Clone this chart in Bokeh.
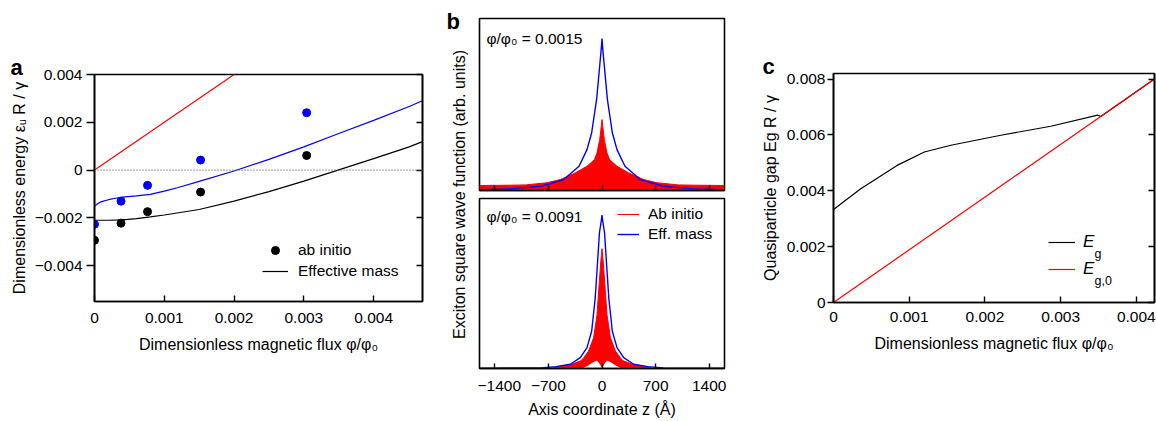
import math
from bokeh.plotting import figure
from bokeh.models import (Range1d, LinearAxis, FixedTicker, CustomJSTickFormatter,
                          Label, Legend, LegendItem, Span)
from bokeh.layouts import row, column
from bokeh.embed import file_html
from bokeh.resources import INLINE

FONT = "Liberation Sans"
RED = "#ff0000"
BLUE = "#0000ff"

# ---------------- panel a data ----------------
flux_ai = [0.0, 0.00038, 0.00076, 0.00152, 0.00304]
energy_ai_black = [-0.00294, -0.00222, -0.00174, -0.00092, 0.00061]
energy_ai_blue = [-0.00227, -0.00130, -0.00064, 0.00042, 0.00240]

flux_em_black = [0.0, 0.0002, 0.0004, 0.0006, 0.0008, 0.0010, 0.0015, 0.0020,
                 0.0025, 0.0030, 0.0035, 0.0040, 0.0045, 0.0047]
energy_em_black = [-0.00210, -0.00210, -0.00208, -0.00203, -0.00196, -0.00188, -0.00165,
                   -0.00130, -0.00090, -0.00046, 0.00001, 0.00048, 0.00096, 0.00119]

flux_em_blue = [0.0, 0.00005, 0.0001, 0.0002, 0.0003, 0.0004, 0.0006, 0.0008, 0.0010,
                0.0012, 0.0015, 0.0020, 0.0025, 0.0030, 0.0035, 0.0040, 0.0045, 0.0047]
energy_em_blue = [-0.00151, -0.00140, -0.00132, -0.00124, -0.00118, -0.00113, -0.00108,
                  -0.00102, -0.00088, -0.00073, -0.00047, -0.00004, 0.00045, 0.00097,
                  0.00153, 0.00208, 0.00265, 0.00290]

flux_free = [0.0, 0.0047]
energy_free = [0.0, 0.0094]

ticks_a_x = [0.0, 0.001, 0.002, 0.003, 0.004]
ticks_a_y = [-0.004, -0.002, 0.0, 0.002, 0.004]

# ---------------- panel b data ----------------
z_red_top = [-1600, -1200, -1000, -720, -545, -350, -196, -100, -65, -30, -10, 0,
             10, 30, 65, 100, 196, 350, 545, 720, 1000, 1200, 1600]
red_hi_top = [0.030, 0.032, 0.034, 0.048, 0.069, 0.113, 0.157, 0.200, 0.245, 0.333, 0.420, 0.465,
              0.420, 0.333, 0.245, 0.200, 0.157, 0.113, 0.069, 0.048, 0.034, 0.032, 0.030]
red_lo_top = [-0.015, -0.015, -0.015, -0.015, -0.015, -0.015, -0.015, -0.015, -0.015, -0.015,
              -0.015, -0.015, -0.015, -0.015, -0.015, -0.015, -0.015, -0.015, -0.015, -0.015,
              -0.015, -0.015, -0.015]

z_blue_top = [-1600, -1200, -800, -500, -300, -196, -135, -70, -30, -10, 0,
              10, 30, 70, 135, 196, 300, 500, 800, 1200, 1600]
blue_top = [0.003, 0.008, 0.025, 0.069, 0.157, 0.267, 0.378, 0.600, 0.820, 0.930, 1.000,
            0.930, 0.820, 0.600, 0.378, 0.267, 0.157, 0.069, 0.025, 0.008, 0.003]

z_red_bot = [-700, -650, -550, -400, -280, -250, -175, -110, -65, -35, -15, 0,
             15, 35, 65, 110, 175, 250, 280, 400, 550, 650, 700]
red_hi_bot = [0.0, 0.0, 0.012, 0.025, 0.048, 0.060, 0.112, 0.198, 0.348, 0.564, 0.700, 0.780,
              0.700, 0.564, 0.348, 0.198, 0.112, 0.060, 0.048, 0.025, 0.012, 0.0, 0.0]
red_lo_bot = [0.0, 0.0, -0.010, -0.010, -0.005, 0.0, 0.020, 0.040, 0.050, 0.030, 0.015, 0.0,
              0.015, 0.030, 0.050, 0.040, 0.020, 0.0, -0.005, -0.010, -0.010, 0.0, 0.0]

z_blue_bot = [-1600, -800, -600, -414, -283, -196, -135, -89, -61, -33, -10, 0,
              10, 33, 61, 89, 135, 196, 283, 414, 600, 800, 1600]
blue_bot = [0.0, 0.002, 0.010, 0.026, 0.069, 0.134, 0.241, 0.456, 0.671, 0.886, 0.960, 1.000,
            0.960, 0.886, 0.671, 0.456, 0.241, 0.134, 0.069, 0.026, 0.010, 0.002, 0.0]

ticks_b_x = [-1400, -700, 0, 700, 1400]
flux_label_top = "φ/φ₀ = 0.0015"
flux_label_bot = "φ/φ₀ = 0.0091"

# ---------------- panel c data ----------------
flux_c = [0.0, 0.00036, 0.00084, 0.00120, 0.00155, 0.00221, 0.00287, 0.00349, 0.00353, 0.00424]
gap_c = [0.00333, 0.00407, 0.00491, 0.00539, 0.00563, 0.00599, 0.00631, 0.00671, 0.00666, 0.0080]
flux_c0 = [0.0, 0.00424]
gap_c0 = [0.0, 0.0080]

ticks_c_x = [0.0, 0.001, 0.002, 0.003, 0.004]
ticks_c_y = [0.0, 0.002, 0.004, 0.006, 0.008]


# ---------------- helpers ----------------
def fmt(decimals):
    return CustomJSTickFormatter(args=dict(d=decimals), code="""
        if (Math.abs(tick) < 1e-12) return "0";
        const s = Math.abs(tick).toFixed(d);
        return (tick < 0 ? "\u2212" : "") + s;
    """)


def px2d(px, f0, f1, r0, r1):
    return r0 + (px - f0) / (f1 - f0) * (r1 - r0)


def style_axis(ax):
    ax.axis_line_color = "black"
    ax.axis_line_width = 1.6
    ax.major_tick_line_color = "black"
    ax.major_tick_line_width = 1.4
    ax.minor_tick_line_color = None
    ax.major_label_text_font = FONT
    ax.major_label_text_font_size = "15.5px"
    ax.major_label_text_color = "black"
    ax.axis_label_text_font = FONT
    ax.axis_label_text_font_size = "16px"
    ax.axis_label_text_font_style = "normal"
    ax.axis_label_text_color = "black"


def add_axis(p, side, ticks, decimals=3, label=None, tin=0, tout=0,
             standoff=5, label_standoff=8, hidden=False):
    ax = LinearAxis(ticker=FixedTicker(ticks=ticks), formatter=fmt(decimals))
    style_axis(ax)
    if label:
        ax.axis_label = label
        ax.axis_label_standoff = label_standoff
    ax.major_tick_in = tin
    ax.major_tick_out = tout
    ax.major_label_standoff = standoff
    if hidden:
        ax.major_label_text_font_size = "1px"
        ax.major_label_text_color = None
        ax.major_label_standoff = 0
    p.add_layout(ax, side)
    return ax


def base_fig(**kw):
    p = figure(output_backend="svg", toolbar_location=None, frame_align=False,
               x_axis_location=None, y_axis_location=None, **kw)
    p.grid.grid_line_color = None
    p.outline_line_color = "black"
    p.outline_line_width = 1.6
    p.background_fill_color = "white"
    p.border_fill_color = "white"
    return p


def panel_letter(p, letter, offset):
    p.title.text = letter
    p.title.align = "left"
    p.title.offset = offset
    p.title.standoff = -10
    p.title.text_font = FONT
    p.title.text_font_size = "22px"
    p.title.text_font_style = "bold"
    p.title.text_color = "black"


def text_label(**kw):
    return Label(text_font=FONT, text_color="black", **kw)


def legend_style(lg, size="15.5px"):
    lg.border_line_color = None
    lg.background_fill_alpha = 0
    lg.padding = 0
    lg.margin = 0
    lg.label_text_font = FONT
    lg.label_text_font_size = size
    lg.label_text_color = "black"


# ================= panel a =================
# frame: x 94..422, y 74..301 (page pixels)
ax_range = (0.0, 0.0047)
ay_range = (-0.0055, 0.004)
pa = base_fig(width=440, height=420, x_range=Range1d(*ax_range), y_range=Range1d(*ay_range),
              min_border_left=94, min_border_right=18, min_border_top=74, min_border_bottom=119)
add_axis(pa, "below", ticks_a_x, 3, "Dimensionless magnetic flux φ/φ₀", tin=6, tout=0,
         standoff=11, label_standoff=10)
add_axis(pa, "left", ticks_a_y, 3, "Dimensionless energy εᵤ R / γ", tin=0, tout=8,
         standoff=4, label_standoff=4)
add_axis(pa, "right", ticks_a_y, 3, None, tin=6, tout=0, hidden=True)

pa.add_layout(Span(location=0, dimension="width", line_color="#666666",
                   line_dash="1 2", line_width=1.2))
pa.line(flux_free, energy_free, line_color=RED, line_width=1.2)
pa.line(flux_em_blue, energy_em_blue, line_color=BLUE, line_width=1.2)
r_em = pa.line(flux_em_black, energy_em_black, line_color="black", line_width=1.2)
pa.scatter(flux_ai, energy_ai_blue, size=8, fill_color=BLUE, line_color=BLUE)
r_ai = pa.scatter(flux_ai, energy_ai_black, size=8, fill_color="black", line_color="black")

lga = Legend(items=[LegendItem(label="ab initio", renderers=[r_ai]),
                    LegendItem(label="Effective mass", renderers=[r_em])],
             location=(168, 20), spacing=1, label_height=20, glyph_height=20,
             glyph_width=26, label_standoff=10)
legend_style(lga)
pa.add_layout(lga)
panel_letter(pa, "a", -84)

# ================= spacer with panel b y label =================
ps = figure(width=37, height=420, output_backend="svg", toolbar_location=None, frame_align=False,
            x_range=Range1d(0, 37), y_range=Range1d(420, 0),
            x_axis_location=None, y_axis_location=None,
            min_border_left=0, min_border_right=0, min_border_top=0, min_border_bottom=0)
ps.grid.grid_line_color = None
ps.outline_line_color = None
ps.add_layout(text_label(x=19, y=(18 + 370) / 2, text="Exciton square wave function (arb. units)",
                         angle=math.pi / 2, text_align="center", text_baseline="middle",
                         text_font_size="16px"))
ps.add_layout(text_label(x=6, y=21, text="b", text_font_size="22px",
                         text_font_style="bold", text_baseline="middle", text_align="left"))

# ================= panel b =================
BX0, BX1 = 479, 724
bx_range = (-1600, 1600)
bt_range = (-0.003, 1.132)
bb_range = (-0.002, 1.108)

pbt = base_fig(width=268, height=194, x_range=Range1d(*bx_range), y_range=Range1d(*bt_range),
               min_border_left=2, min_border_right=21, min_border_top=18, min_border_bottom=4)
add_axis(pbt, "below", ticks_b_x, 0, None, tin=5, tout=0, hidden=True)
pbt.varea(x=z_red_top, y1=red_lo_top, y2=red_hi_top, fill_color=RED)
pbt.line(z_red_top, red_hi_top, line_color=RED, line_width=1)
pbt.line(z_blue_top, blue_top, line_color=BLUE, line_width=1.4)
pbt.add_layout(text_label(x=px2d(486, BX0, BX1, *bx_range), y=px2d(38, 190, 18, *bt_range),
                          text=flux_label_top, text_font_size="15.5px",
                          text_baseline="middle", text_align="left"))

pbb = base_fig(width=268, height=226, x_range=Range1d(*bx_range), y_range=Range1d(*bb_range),
               min_border_left=2, min_border_right=21, min_border_top=4, min_border_bottom=52)
add_axis(pbb, "below", ticks_b_x, 0, "Axis coordinate z (Å)", tin=5, tout=0,
         standoff=12, label_standoff=7)
pbb.varea(x=z_red_bot, y1=red_lo_bot, y2=red_hi_bot, fill_color=RED)
r_ab = pbb.line(z_red_bot, red_hi_bot, line_color=RED, line_width=1)
r_eff = pbb.line(z_blue_bot, blue_bot, line_color=BLUE, line_width=1.4)
pbb.add_layout(text_label(x=px2d(486, BX0, BX1, *bx_range), y=px2d(216, 370, 198, *bb_range),
                          text=flux_label_bot, text_font_size="15.5px",
                          text_baseline="middle", text_align="left"))
lgb = Legend(items=[LegendItem(label="Ab initio", renderers=[r_ab]),
                    LegendItem(label="Eff. mass", renderers=[r_eff])],
             location=(138, 124), spacing=0, label_height=20, glyph_height=20,
             glyph_width=22, label_standoff=9)
legend_style(lgb)
pbb.add_layout(lgb)

# ================= panel c =================
CX0, CX1, CY0, CY1 = 833, 1154, 302, 73
cx_range = (0.0, 0.00424)
cy_range = (0.0, 0.0082)
pc = base_fig(width=411, height=420, x_range=Range1d(*cx_range), y_range=Range1d(*cy_range),
              min_border_left=88, min_border_right=2, min_border_top=73, min_border_bottom=118)
add_axis(pc, "below", ticks_c_x, 3, "Dimensionless magnetic flux φ/φ₀", tin=6, tout=0,
         standoff=9, label_standoff=10)
add_axis(pc, "left", ticks_c_y, 3, "Quasiparticle gap Eg R / γ", tin=0, tout=6,
         standoff=2, label_standoff=5)
add_axis(pc, "right", ticks_c_y, 3, None, tin=6, tout=0, hidden=True)

r_g = pc.line(flux_c, gap_c, line_color="black", line_width=1.2)
r_g0 = pc.line(flux_c0, gap_c0, line_color=RED, line_width=1.2)
lgc = Legend(items=[LegendItem(label="E", renderers=[r_g]),
                    LegendItem(label="E", renderers=[r_g0])],
             location=(215, 20), spacing=1, label_height=26, glyph_height=26,
             glyph_width=27, label_standoff=8)
legend_style(lgc, "17px")
lgc.label_text_font_style = "italic"
pc.add_layout(lgc)
for sub, ypx in (("g", 253), ("g,0", 280)):
    pc.add_layout(text_label(x=px2d(1094, CX0, CX1, *cx_range), y=px2d(ypx, CY0, CY1, *cy_range),
                             text=sub, text_font_size="12.5px",
                             text_baseline="alphabetic", text_align="left"))
panel_letter(pc, "c", -71)

layout = row(pa, ps, column(pbt, pbb), pc)
open("out.html", "w").write(file_html(layout, INLINE))
